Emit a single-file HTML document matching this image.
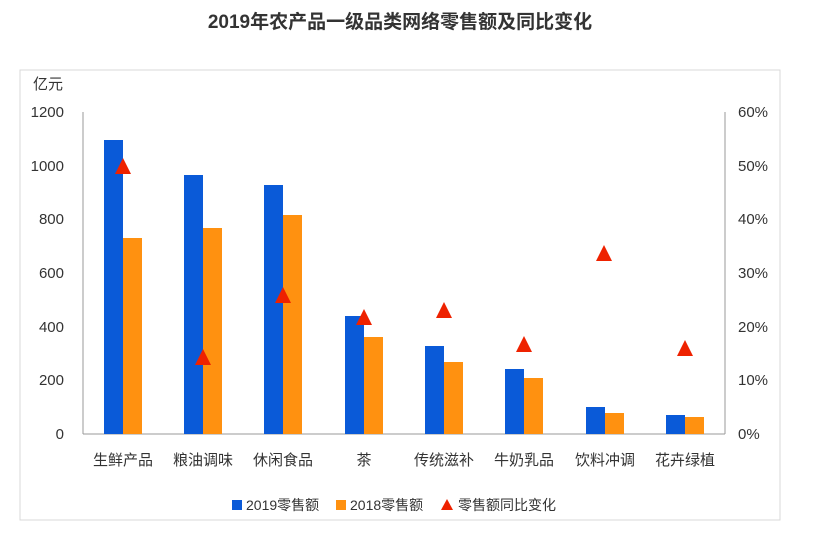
<!DOCTYPE html>
<html><head><meta charset="utf-8"><style>
body{margin:0;background:#fff;}
svg text{font-family:"Liberation Sans","Noto Sans CJK SC",sans-serif;fill:#333;}
</style></head><body>
<svg width="813" height="538" xmlns="http://www.w3.org/2000/svg">
<rect x="0" y="0" width="813" height="538" fill="#fff"/>
<text x="400" y="28" font-size="19" font-weight="bold" text-anchor="middle" fill="#222">2019年农产品一级品类网络零售额及同比变化</text>
<rect x="20" y="70" width="760" height="450" fill="none" stroke="#d9d9d9" stroke-width="1"/>
<text x="48" y="89" font-size="15" text-anchor="middle">亿元</text>
<line x1="83" y1="112" x2="83" y2="434" stroke="#999"/>
<line x1="725" y1="112" x2="725" y2="434" stroke="#999"/>
<line x1="83" y1="434" x2="725" y2="434" stroke="#999"/>
<g font-size="15" text-anchor="end">
<text x="64" y="117">1200</text><text x="64" y="171">1000</text><text x="64" y="224">800</text>
<text x="64" y="278">600</text><text x="64" y="332">400</text><text x="64" y="385">200</text><text x="64" y="439">0</text>
</g>
<g font-size="15" text-anchor="start">
<text x="738" y="117">60%</text><text x="738" y="171">50%</text><text x="738" y="224">40%</text>
<text x="738" y="278">30%</text><text x="738" y="332">20%</text><text x="738" y="385">10%</text><text x="738" y="439">0%</text>
</g>
<g fill="#0a5ad8">
<rect x="104" y="140" width="19" height="294"/>
<rect x="184" y="175" width="19" height="259"/>
<rect x="264" y="185" width="19" height="249"/>
<rect x="345" y="316" width="19" height="118"/>
<rect x="425" y="346" width="19" height="88"/>
<rect x="505" y="369" width="19" height="65"/>
<rect x="586" y="407" width="19" height="27"/>
<rect x="666" y="415" width="19" height="19"/>
</g>
<g fill="#ff9110">
<rect x="123" y="238" width="19" height="196"/>
<rect x="203" y="228" width="19" height="206"/>
<rect x="283" y="215" width="19" height="219"/>
<rect x="364" y="337" width="19" height="97"/>
<rect x="444" y="362" width="19" height="72"/>
<rect x="524" y="378" width="19" height="56"/>
<rect x="605" y="413" width="19" height="21"/>
<rect x="685" y="417" width="19" height="17"/>
</g>
<g fill="#ee2200">
<polygon points="123,158 131,174 115,174"/>
<polygon points="203,349 211,365 195,365"/>
<polygon points="283,287 291,303 275,303"/>
<polygon points="364,309 372,325 356,325"/>
<polygon points="444,302 452,318 436,318"/>
<polygon points="524,336 532,352 516,352"/>
<polygon points="604,245 612,261 596,261"/>
<polygon points="685,340 693,356 677,356"/>
</g>
<g font-size="15" text-anchor="middle">
<text x="123" y="465">生鲜产品</text><text x="203" y="465">粮油调味</text><text x="283" y="465">休闲食品</text>
<text x="364" y="465">茶</text><text x="444" y="465">传统滋补</text><text x="524" y="465">牛奶乳品</text>
<text x="605" y="465">饮料冲调</text><text x="685" y="465">花卉绿植</text>
</g>
<rect x="232" y="500" width="10" height="10" fill="#0a5ad8"/>
<text x="246" y="510" font-size="14">2019零售额</text>
<rect x="336" y="500" width="10" height="10" fill="#ff9110"/>
<text x="350" y="510" font-size="14">2018零售额</text>
<polygon points="447,499 453,510 441,510" fill="#ee2200"/>
<text x="458" y="510" font-size="14">零售额同比变化</text>
</svg>
</body></html>
